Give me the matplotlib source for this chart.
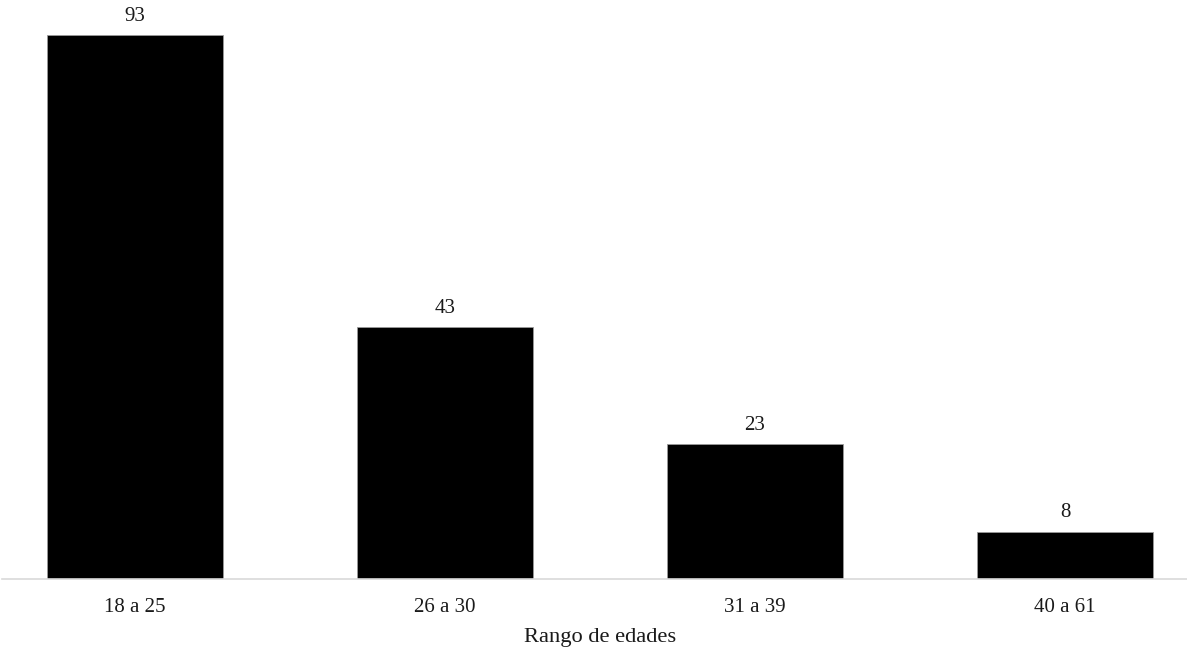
import matplotlib
matplotlib.use("Agg")
import matplotlib.pyplot as plt

categories = ["18 a 25", "26 a 30", "31 a 39", "40 a 61"]
values = [93, 43, 23, 8]
x_label = "Rango de edades"

plt.rcParams["font.family"] = ["Liberation Serif", "DejaVu Serif"]

W, H = 1187, 652
fig = plt.figure(figsize=(W / 100, H / 100), dpi=100)

base_px = 578.5
left_px, right_px = 2, 1187
ax = fig.add_axes([left_px / W, 1 - base_px / H, (right_px - left_px) / W, base_px / H])

px_per_unit = 5.84
ax.set_ylim(0, base_px / px_per_unit)
ax.set_xlim(-133 / 310, 3 + 122 / 310)

pos = list(range(len(categories)))
bars = ax.bar(pos, values, width=176 / 310, color="black", edgecolor="#9a9a9a", linewidth=0.6)

for b, v in zip(bars, values):
    ax.annotate(str(v), (b.get_x() + b.get_width() / 2, v), xytext=(0, 10.5),
                textcoords="offset points", ha="center", va="baseline",
                fontsize=15, color="#1a1a1a")

for s in ["top", "right", "left"]:
    ax.spines[s].set_visible(False)
ax.spines["bottom"].set_color("#d9d9d9")
ax.spines["bottom"].set_linewidth(1.2)
ax.set_yticks([])
ax.set_xticks(pos)
ax.set_xticklabels(categories, fontsize=15, color="#1a1a1a")
ax.tick_params(axis="x", length=0, pad=14)

fig.text((135 + 1065) / 2 / W, 1 - 642 / H, x_label, ha="center", va="baseline",
         fontsize=16.2, color="#1a1a1a")

fig.savefig("out.png", dpi=100)
